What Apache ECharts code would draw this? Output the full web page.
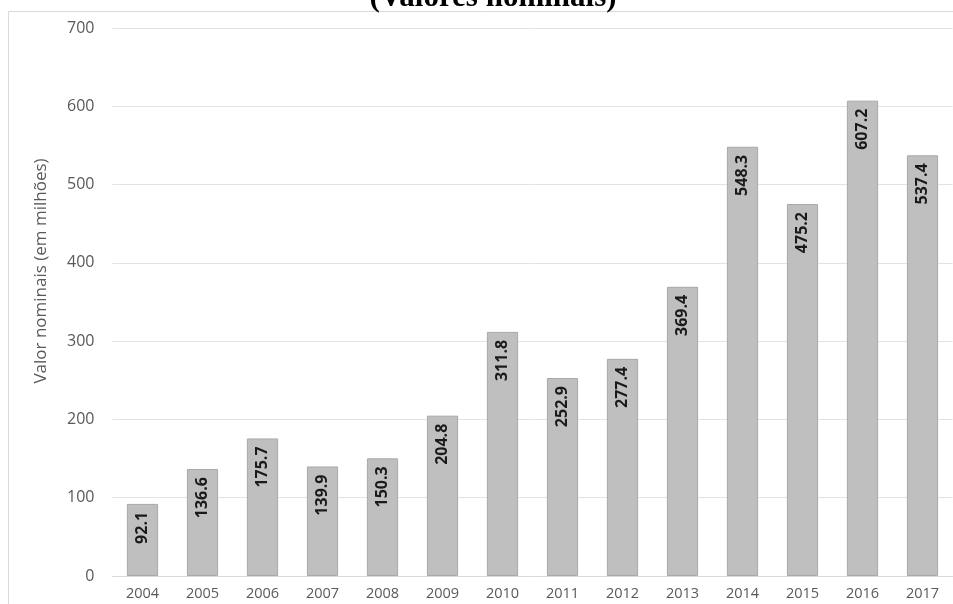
<!DOCTYPE html>
<html>
<head>
<meta charset="utf-8">
<script src="https://cdn.jsdelivr.net/npm/echarts@6/dist/echarts.min.js"></script>
<style>
html, body { margin: 0; padding: 0; background: #fff; }
#chart { width: 953px; height: 604px; }
</style>
</head>
<body>
<div id="chart"></div>
<script>
// dados
var anos = ['2004', '2005', '2006', '2007', '2008', '2009', '2010', '2011', '2012', '2013', '2014', '2015', '2016', '2017'];
var valores = [92.1, 136.6, 175.7, 139.9, 150.3, 204.8, 311.8, 252.9, 277.4, 369.4, 548.3, 475.2, 607.2, 537.4];

var chart = echarts.init(document.getElementById('chart'));

var option = {
	backgroundColor: '#fff',
	animation: false,
	title: {
		text: '(Valores nominais)',
		left: 488,
		textAlign: 'center',
		top: -23,
		textStyle: {
			fontFamily: 'Liberation Serif',
			fontWeight: 'bold',
			fontSize: 31,
			color: '#000'
		}
	},
	graphic: [ {
		type: 'rect',
		shape: { x: 8.5, y: 11.5, width: 960, height: 600 },
		style: { fill: 'none', stroke: '#d9d9d9', lineWidth: 1 },
		z: -1
	}, {
		// título do eixo vertical
		type: 'text',
		x: 41,
		y: 271,
		rotation: Math.PI / 2,
		style: {
			text: 'Valor nominais (em milhões)',
			fill: '#595959',
			font: '17px "Open Sans"',
			align: 'center',
			verticalAlign: 'middle'
		}
	} ],
	grid: {
		left: 112.5,
		right: 0.5,
		top: 28,
		bottom: 28
	},
	xAxis: {
		type: 'category',
		data: anos,
		axisLine: { lineStyle: { color: '#d9d9d9' } },
		axisTick: { show: false },
		axisLabel: {
			color: '#595959',
			fontFamily: 'Open Sans',
			fontSize: 14.5,
			margin: 10
		}
	},
	yAxis: {
		type: 'value',
		min: 0,
		max: 700,
		interval: 100,
		axisLine: { show: false },
		axisTick: { show: false },
		splitLine: { lineStyle: { color: '#e3e3e3' } },
		axisLabel: {
			color: '#595959',
			fontFamily: 'Open Sans',
			fontSize: 16,
			margin: 18
		}
	},
	series: [ {
		type: 'bar',
		data: valores,
		barCategoryGap: '48%',
		itemStyle: {
			color: '#bfbfbf',
			borderColor: '#a8a8a8',
			borderWidth: 1
		},
		label: {
			show: true,
			position: 'insideTop',
			rotate: 90,
			align: 'right',
			verticalAlign: 'middle',
			distance: 8,
			formatter: function(p) { return p.value.toFixed(1); },
			color: '#1a1a1a',
			fontFamily: 'Open Sans',
			fontWeight: 'bold',
			fontSize: 16
		}
	} ]
};
chart.setOption(option);
</script>
</body>
</html>
